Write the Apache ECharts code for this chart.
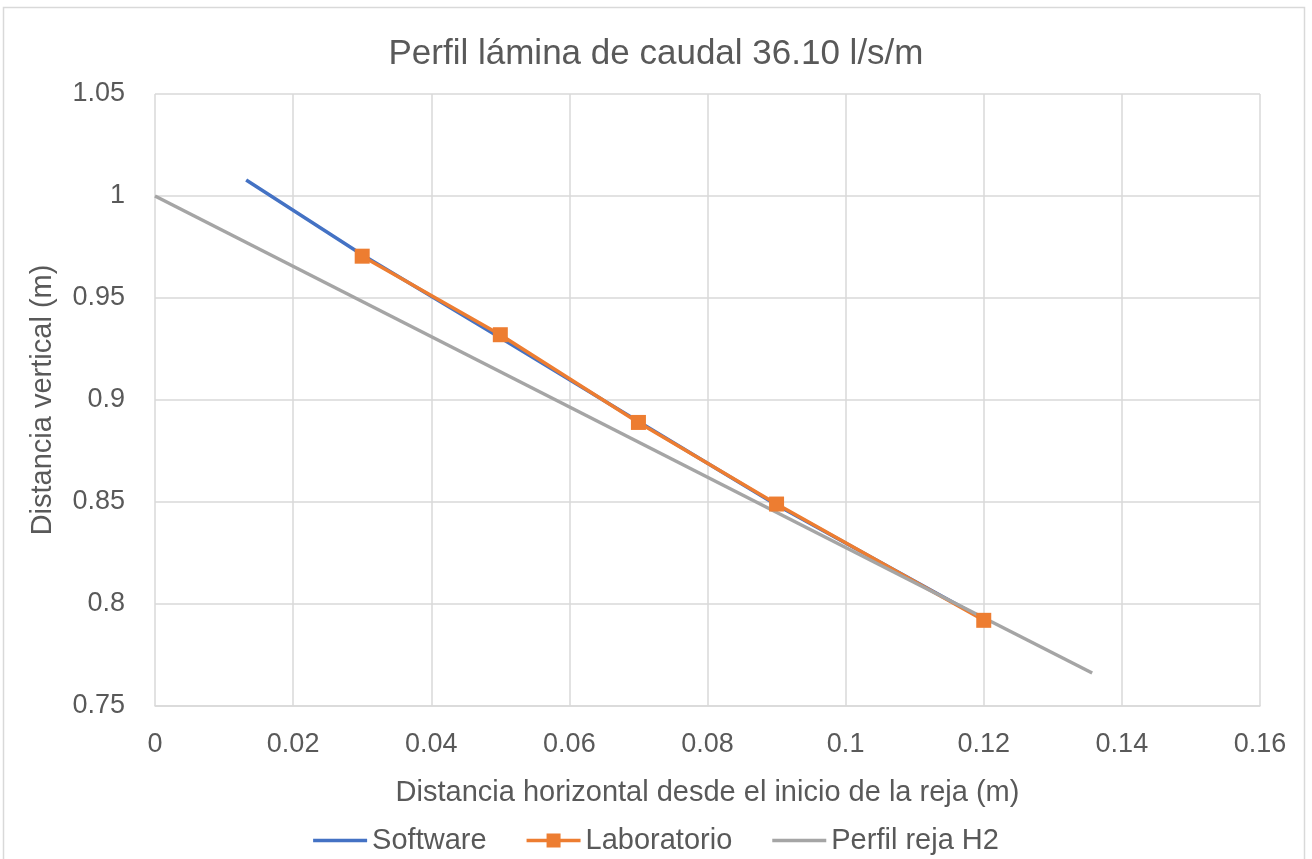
<!DOCTYPE html>
<html><head><meta charset="utf-8">
<script src="https://cdn.jsdelivr.net/npm/echarts@6/dist/echarts.min.js"></script>
<style>html,body{margin:0;padding:0;background:#fff}#c{width:1312px;height:859px}</style>
</head><body><div id="c"></div>
<script>
const title = 'Perfil lámina de caudal 36.10 l/s/m';
const xName = 'Distancia horizontal desde el inicio de la reja (m)';
const yName = 'Distancia vertical (m)';
const softwareX = [0.0132, 0.03, 0.05, 0.07, 0.09, 0.12];
const softwareY = [1.0078, 0.9712, 0.9305, 0.8895, 0.8485, 0.7925];
const labX = [0.03, 0.05, 0.07, 0.09, 0.12];
const labY = [0.9705, 0.932, 0.889, 0.849, 0.792];
const rejaX = [0, 0.1357];
const rejaY = [1.0, 0.7662];
const font = 'Liberation Sans';
const zip = (a, b) => a.map((v, i) => [v, b[i]]);
const lineIcon = 'path://M0,0L0,0M54,16L54,16M0,6.2L54,6.2L54,9.8L0,9.8Z';
const markIcon = 'path://M0,0L0,0M54,16L54,16M0,6.2L54,6.2L54,9.8L0,9.8ZM20,1L34,1L34,15L20,15Z';
const chart = echarts.init(document.getElementById('c'));
chart.setOption({
  animation: false,
  backgroundColor: '#fff',
  title: { text: title, left: 'center', top: 32, textStyle: { fontFamily: font, fontSize: 35, fontWeight: 'normal', color: '#595959' } },
  grid: { left: 155, right: 52, top: 94, bottom: 153 },
  xAxis: { type: 'value', min: 0, max: 0.16, interval: 0.02, name: xName, nameLocation: 'middle', nameGap: 72,
    nameTextStyle: { fontFamily: font, fontSize: 29, color: '#595959' },
    axisLine: { show: true, lineStyle: { color: '#d9d9d9', width: 1.5 } }, axisTick: { show: false },
    axisLabel: { fontFamily: font, fontSize: 27, color: '#595959', margin: 25, formatter: v => +v.toFixed(2) + '' },
    splitLine: { show: true, lineStyle: { color: '#d9d9d9', width: 1.5 } } },
  yAxis: { type: 'value', min: 0.75, max: 1.05, interval: 0.05, name: yName, nameLocation: 'middle', nameGap: 98,
    nameTextStyle: { fontFamily: font, fontSize: 29, color: '#595959' },
    axisLine: { show: false }, axisTick: { show: false },
    axisLabel: { fontFamily: font, fontSize: 27, color: '#595959', margin: 30, padding: [10, 0, 0, 0], formatter: v => +v.toFixed(2) + '' },
    splitLine: { show: true, lineStyle: { color: '#d9d9d9', width: 1.5 } } },
  legend: { top: 821, left: 'center', itemGap: 40, itemWidth: 54, itemHeight: 16,
    textStyle: { fontFamily: font, fontSize: 29, color: '#595959', padding: [0, 0, 0, 0] },
    data: [{ name: 'Software', icon: lineIcon }, { name: 'Laboratorio', icon: markIcon }, { name: 'Perfil reja H2', icon: lineIcon }] },
  series: [
    { name: 'Software', type: 'line', data: zip(softwareX, softwareY), showSymbol: false, symbol: 'none', lineStyle: { color: '#4472c4', width: 3.5 }, itemStyle: { color: '#4472c4' } },
    { name: 'Laboratorio', type: 'line', data: zip(labX, labY), symbol: 'rect', symbolSize: 15, lineStyle: { color: '#ed7d31', width: 3.5 }, itemStyle: { color: '#ed7d31' } },
    { name: 'Perfil reja H2', type: 'line', data: zip(rejaX, rejaY), symbol: 'none', lineStyle: { color: '#a5a5a5', width: 3.5 }, itemStyle: { color: '#a5a5a5' } }
  ],
  graphic: [{ type: 'rect', shape: { x: 3.5, y: 7.5, width: 1301, height: 860 }, style: { fill: 'none', stroke: '#d9d9d9', lineWidth: 1.5 }, silent: true }]
});
</script></body></html>
